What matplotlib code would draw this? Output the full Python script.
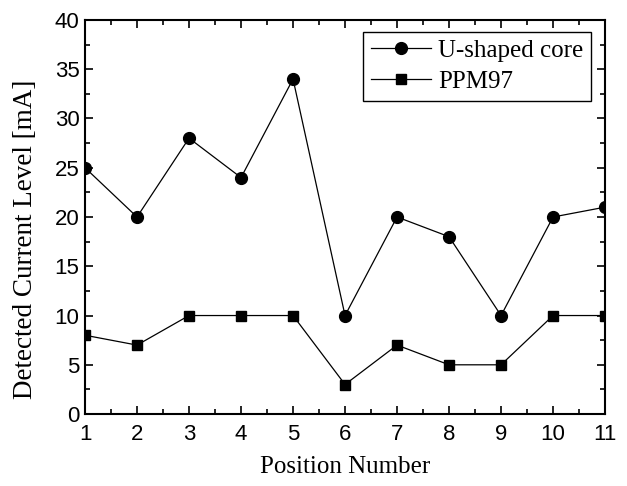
import matplotlib
matplotlib.use("Agg")
import matplotlib.pyplot as plt
from matplotlib.ticker import MultipleLocator

positions = [1, 2, 3, 4, 5, 6, 7, 8, 9, 10, 11]
u_core = [25, 20, 28, 24, 34, 10, 20, 18, 10, 20, 21]
ppm97 = [8, 7, 10, 10, 10, 3, 7, 5, 5, 10, 10]

fig = plt.figure(figsize=(6.27, 4.86), dpi=100)
ax = fig.add_axes([0.1356, 0.148, 0.8294, 0.811])

ax.plot(positions, u_core, color='black', lw=0.9, marker='o', ms=8.5, label='U-shaped core')
ax.plot(positions, ppm97, color='black', lw=0.9, marker='s', ms=6.8, label='PPM97')

ax.set_xlim(1, 11)
ax.set_ylim(0, 40)
ax.xaxis.set_major_locator(MultipleLocator(1))
ax.xaxis.set_minor_locator(MultipleLocator(0.5))
ax.yaxis.set_major_locator(MultipleLocator(5))
ax.yaxis.set_minor_locator(MultipleLocator(2.5))
ax.tick_params(which='both', direction='in', top=True, right=True, width=1.2)
ax.tick_params(which='major', length=6, labelsize=16)
ax.tick_params(axis='x', which='major', pad=7)
ax.tick_params(axis='y', which='major', pad=4)
ax.tick_params(which='minor', length=3.5)
for lbl in ax.get_xticklabels() + ax.get_yticklabels():
    lbl.set_family('Liberation Sans')
for s in ax.spines.values():
    s.set_linewidth(1.5)

ax.set_xlabel('Position Number', family='Liberation Serif', fontsize=18, labelpad=8)
ax.set_ylabel('Detected Current Level [mA]', family='Liberation Serif', fontsize=19.5)
ax.yaxis.set_label_coords(-0.09, 0.444)

leg = ax.legend(loc='upper right', prop={'family': 'Liberation Serif', 'size': 18},
                fancybox=False, edgecolor='black', framealpha=1, handlelength=2.4,
                borderpad=0.3, labelspacing=0.35, handletextpad=0.3, borderaxespad=0,
                bbox_to_anchor=(0.973, 0.97))
leg.get_frame().set_linewidth(1.0)

fig.savefig('out.png', dpi=100)
